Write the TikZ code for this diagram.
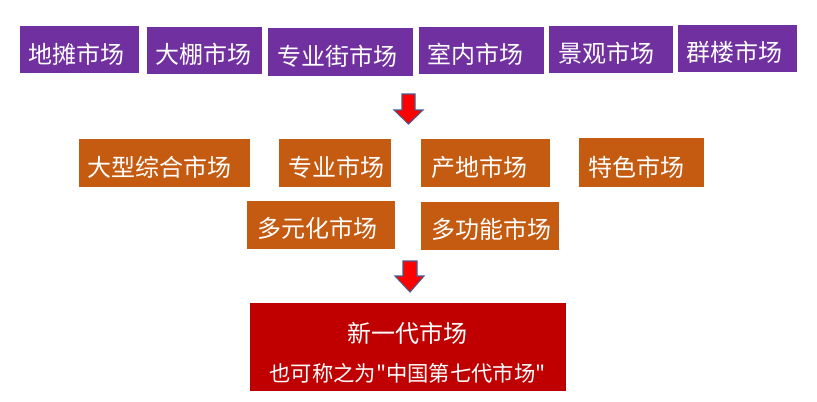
\documentclass[tikz,border=0pt]{standalone}
\usepackage{fontspec}
\setmainfont{Noto Sans CJK SC}[Ligatures=TeXOff]
\definecolor{mpurple}{HTML}{7030A0}
\definecolor{morange}{HTML}{C55A11}
\definecolor{mred}{HTML}{C00000}
\definecolor{arrfill}{HTML}{FF0000}
\definecolor{arrline}{HTML}{4A5A8C}
\newcommand\mkcell[9]{%
  \node[#2, anchor=north west, minimum width=#5*0.75pt, minimum height=#6*0.75pt] (#1) at (#3,#4) {};
  \node[lbl, anchor=west] (#1t) at (#7,#8) {#9};}
\begin{document}
\begin{tikzpicture}[x=0.75pt,y=-0.75pt,
  cellbase/.style={inner sep=0pt, outer sep=0pt, draw=none},
  pcell/.style={cellbase, fill=mpurple},
  ocell/.style={cellbase, fill=morange},
  rcell/.style={cellbase, fill=mred},
  lbl/.style={inner sep=0pt, text=white, font=\fontsize{18}{20}\selectfont},
  lblsmall/.style={inner sep=0pt, text=white, font=\fontsize{16}{18}\selectfont},
  blockarrow/.style={fill=arrfill, draw=arrline, line width=0.8pt, line join=miter}]
\useasboundingbox (0,0) rectangle (817,401);
% top row
\mkcell{a1}{pcell}{20}{26}{119}{47}{28}{54}{地摊市场}
\mkcell{a2}{pcell}{147}{27}{115}{47}{155}{54.5}{大棚市场}
\mkcell{a3}{pcell}{268}{28}{145}{48}{277}{56}{专业街市场}
\mkcell{a4}{pcell}{419}{27}{125}{47}{427}{54.5}{室内市场}
\mkcell{a5}{pcell}{549}{26}{124}{47}{558}{53.5}{景观市场}
\mkcell{a6}{pcell}{678}{25}{119}{47}{686}{52.5}{群楼市场}
% arrow 1
\draw[blockarrow] (402,94) -- (415,94) -- (415,110) -- (423,110) -- (408.5,124) -- (394,110) -- (402,110) -- cycle;
% second row
\mkcell{b1}{ocell}{79}{139}{171}{48}{87}{167.5}{大型综合市场}
\mkcell{b2}{ocell}{279}{139}{112}{48}{288}{167.5}{专业市场}
\mkcell{b3}{ocell}{421}{139}{129}{48}{431}{167.5}{产地市场}
\mkcell{b4}{ocell}{579}{138}{125}{49}{588}{167}{特色市场}
\mkcell{b5}{ocell}{247}{201}{148}{48}{257}{228}{多元化市场}
\mkcell{b6}{ocell}{421}{202}{138}{48}{431}{229}{多功能市场}
% arrow 2
\draw[blockarrow] (403,261) -- (417,261) -- (417,276) -- (424,276) -- (410,292) -- (395,276) -- (403,276) -- cycle;
% result
\node[rcell, anchor=north west, minimum width=316*0.75pt, minimum height=88*0.75pt] (c) at (250,303) {};
\node[lbl] (c1) at (407,333) {新一代市场};
\node[lblsmall] (c2) at (407.5,373) {也可称之为"中国第七代市场"};
\end{tikzpicture}
\end{document}
